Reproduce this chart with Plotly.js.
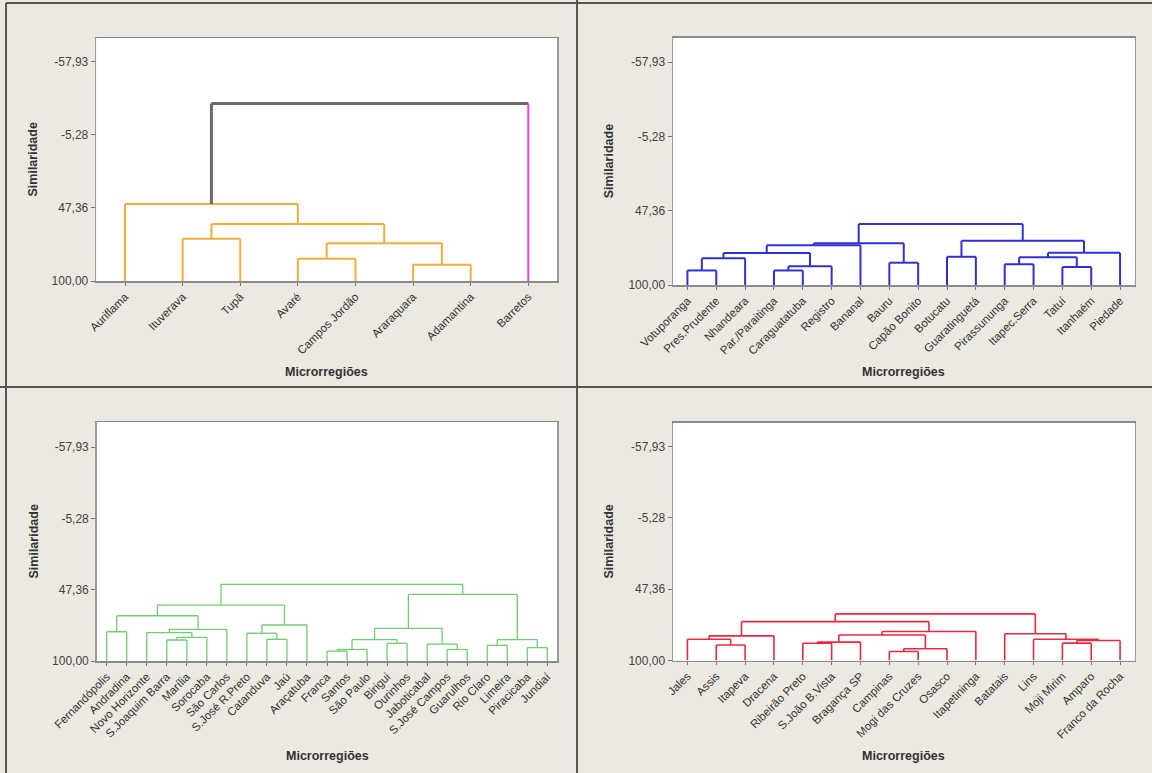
<!DOCTYPE html>
<html><head><meta charset="utf-8">
<script src="https://cdn.plot.ly/plotly-3.0.1.min.js"></script>
<style>html,body{margin:0;padding:0;background:#ECE9E1;}#chart{width:1152px;height:773px;}</style>
</head><body><div id="chart"></div>
<script>
// ---------- DATA ----------
const yTickVals = [-57.93, -5.28, 47.36, 100.00];
const yTickText = ['-57,93', '-5,28', '47,36', '100,00'];
const yTitle = 'Similaridade';
const xTitle = 'Microrregiões';

// Panel 1 (top-left)
const leaves1 = ['Auriflama','Ituverava','Tupã','Avaré','Campos Jordão','Araraquara','Adamantina','Barretos'];
const merges1 = [[3,4,83.9],[5,6,88.2],[8,9,72.8],[1,2,69.5],[11,10,58.9],[0,12,44.5],[13,7,-28.0]];
const groups1 = [0,0,0,0,0,0,0,1];

// Panel 2 (top-right)
const leaves2 = ['Votuporanga','Pres.Prudente','Nhandeara','Par./Paraitinga','Caraguatatuba','Registro','Bananal','Bauru','Capão Bonito','Botucatu','Guaratinguetá','Pirassununga','Itapec.Serra','Tatuí','Itanhaém','Piedade'];
const merges2 = [[0,1,89.7],[16,2,81.1],[3,4,89.7],[18,5,86.8],[17,19,77.3],[20,6,71.8],[7,8,84.2],[21,22,70.5],[9,10,80.0],[11,12,85.3],[13,14,87.3],[25,26,80.3],[27,15,77.1],[24,28,68.7],[23,29,56.8]];
const groups2 = leaves2.map(() => 0);

// Panel 3 (bottom-left)
const leaves3 = ['Fernandópolis','Andradina','Novo Horizonte','S.Joaquim Barra','Marília','Sorocaba','São Carlos','S.José R.Preto','Catanduva','Jaú','Araçatuba','Franca','Santos','São Paulo','Birigui','Ourinhos','Jaboticabal','S.José Campos','Guarulhos','Rio Claro','Limeira','Piracicaba','Jundiaí'];
const merges3 = [[0,1,78.4],[3,4,84.5],[24,5,82.5],[2,25,79.0],[26,6,76.6],[23,27,66.6],[8,9,84.0],[7,29,79.5],[30,10,73.4],[28,31,58.7],[11,12,92.7],[33,13,91.5],[14,15,86.9],[34,35,84.2],[17,18,91.5],[16,37,87.5],[36,38,75.9],[19,20,88.4],[21,22,90.1],[40,41,84.2],[39,42,50.8],[32,43,43.4]];
const groups3 = leaves3.map(() => 0);

// Panel 4 (bottom-right)
const leaves4 = ['Jales','Assis','Itapeva','Dracena','Ribeirão Preto','S.João B.Vista','Bragança SP','Campinas','Mogi das Cruzes','Osasco','Itapetininga','Batatais','Lins','Moji Mirim','Amparo','Franco da Rocha'];
const merges4 = [[1,2,88.6],[0,16,84.3],[17,3,81.8],[4,5,87.3],[19,6,86.4],[7,8,93.3],[21,9,91.3],[20,22,81.2],[23,10,78.6],[18,24,71.3],[13,14,87.2],[26,15,85.2],[12,27,84.3],[11,28,80.3],[25,29,65.6]];
const groups4 = leaves4.map(() => 0);

// ---------- STYLE / LAYOUT ----------
const W = 1152, H = 773;
const FONT = 'Liberation Sans, Arial, sans-serif';
const panels = [
  {leaves: leaves1, merges: merges1, groups: groups1, colors: ['rgb(244,172,62)','rgb(228,70,228)'], linkColor: 'rgb(105,105,105)', width: 2, linkWidth: 3,
   box: {l: 96.2, r: 557.1, t: 38, b: 281}, yTop: -75.2, ytx: 33, xty: 372},
  {leaves: leaves2, merges: merges2, groups: groups2, colors: ['rgb(48,48,212)'], linkColor: 'rgb(48,48,212)', width: 2, linkWidth: 2,
   box: {l: 673, r: 1134.5, t: 37.5, b: 285}, yTop: -75.4, ytx: 609, xty: 372},
  {leaves: leaves3, merges: merges3, groups: groups3, colors: ['rgb(112,206,112)'], linkColor: 'rgb(112,206,112)', width: 1.3, linkWidth: 1.3,
   box: {l: 96.7, r: 557.3, t: 422, b: 661}, yTop: -76.5, ytx: 33, xty: 756},
  {leaves: leaves4, merges: merges4, groups: groups4, colors: ['rgb(232,42,62)'], linkColor: 'rgb(232,42,62)', width: 1.6, linkWidth: 1.6,
   box: {l: 673, r: 1134.5, t: 422.7, b: 660.5}, yTop: -75.6, ytx: 609, xty: 756}
];

function buildTraces(p, idx) {
  const n = p.leaves.length;
  const xs = [], hs = [], gs = [];
  for (let i = 0; i < n; i++) { xs.push(i + 1); hs.push(100); gs.push(p.groups[i]); }
  const segs = {}; // color -> {x:[],y:[],w}
  function add(color, w, x0, y0, x1, y1) {
    const key = color + '|' + w;
    if (!segs[key]) segs[key] = {color, w, x: [], y: []};
    segs[key].x.push(x0, x1, null);
    segs[key].y.push(y0, y1, null);
  }
  p.merges.forEach((m) => {
    const [a, b, h] = m;
    const x = (xs[a] + xs[b]) / 2;
    const g = gs[a] === gs[b] ? gs[a] : -1;
    const pc = g >= 0 ? p.colors[g] : p.linkColor;
    const pw = g >= 0 ? p.width : p.linkWidth;
    [a, b].forEach((c) => {
      let col, w;
      if (g >= 0) { col = pc; w = pw; }
      else if (c < n) { col = p.colors[gs[c]]; w = p.width; }
      else { col = p.linkColor; w = p.linkWidth; }
      add(col, w, xs[c], hs[c], xs[c], h);
    });
    add(pc, pw, xs[a], h, xs[b], h);
    xs.push(x); hs.push(h); gs.push(g);
  });
  const sfx = idx === 0 ? '' : String(idx + 1);
  return Object.values(segs).map((s) => ({
    type: 'scatter', mode: 'lines', x: s.x, y: s.y, xaxis: 'x' + sfx, yaxis: 'y' + sfx,
    line: {color: s.color, width: s.w}, hoverinfo: 'skip', showlegend: false, connectgaps: false
  }));
}

let data = [];
const layout = {
  width: W, height: H, margin: {l: 0, r: 0, t: 0, b: 0},
  paper_bgcolor: '#ECE9E1', plot_bgcolor: '#FFFFFF', showlegend: false,
  annotations: [], shapes: []
};

panels.forEach((p, i) => {
  data = data.concat(buildTraces(p, i));
  const sfx = i === 0 ? '' : String(i + 1);
  const n = p.leaves.length;
  layout['xaxis' + sfx] = {
    domain: [p.box.l / W, p.box.r / W], anchor: 'y' + sfx,
    range: [0.5, n + 0.5], tickvals: p.leaves.map((_, k) => k + 1), ticktext: p.leaves,
    tickangle: -45, tickfont: {family: FONT, size: 11.5, color: '#333'},
    ticks: 'outside', ticklen: 3, tickcolor: '#777', showgrid: false, zeroline: false,
    showline: true, mirror: true, linecolor: '#8c8c8c', linewidth: 1.5, fixedrange: true
  };
  layout['yaxis' + sfx] = {
    domain: [1 - p.box.b / H, 1 - p.box.t / H], anchor: 'x' + sfx,
    range: [100, p.yTop], tickvals: yTickVals, ticktext: yTickText,
    tickfont: {family: FONT, size: 12, color: '#444'},
    ticks: 'outside', ticklen: 4, tickcolor: '#777', showgrid: false, zeroline: false,
    showline: true, mirror: true, linecolor: '#9a9a9a', linewidth: 1.5, fixedrange: true
  };
  layout.annotations.push({
    text: '<b>' + yTitle + '</b>', textangle: -90, xref: 'paper', yref: 'paper',
    x: p.ytx / W, y: 1 - ((p.box.t + p.box.b) / 2) / H, xanchor: 'center', yanchor: 'middle',
    showarrow: false, font: {family: FONT, size: 12.5, color: '#333'}
  });
  layout.annotations.push({
    text: '<b>' + xTitle + '</b>', xref: 'paper', yref: 'paper',
    x: ((p.box.l + p.box.r) / 2) / W, y: 1 - p.xty / H, xanchor: 'center', yanchor: 'middle',
    showarrow: false, font: {family: FONT, size: 12.5, color: '#333'}
  });
});

// panel borders / dividers
const borderColor = '#555';
[[6, 3, 1152, 3], [6, 3, 6, 773], [577, 0, 577, 773], [0, 387, 1152, 387]].forEach(([x0, y0, x1, y1]) => {
  layout.shapes.push({type: 'line', xref: 'paper', yref: 'paper', x0: x0 / W, x1: x1 / W, y0: 1 - y0 / H, y1: 1 - y1 / H,
    line: {color: borderColor, width: 2}});
});

Plotly.newPlot('chart', data, layout, {staticPlot: true, displayModeBar: false});
</script>
</body></html>
